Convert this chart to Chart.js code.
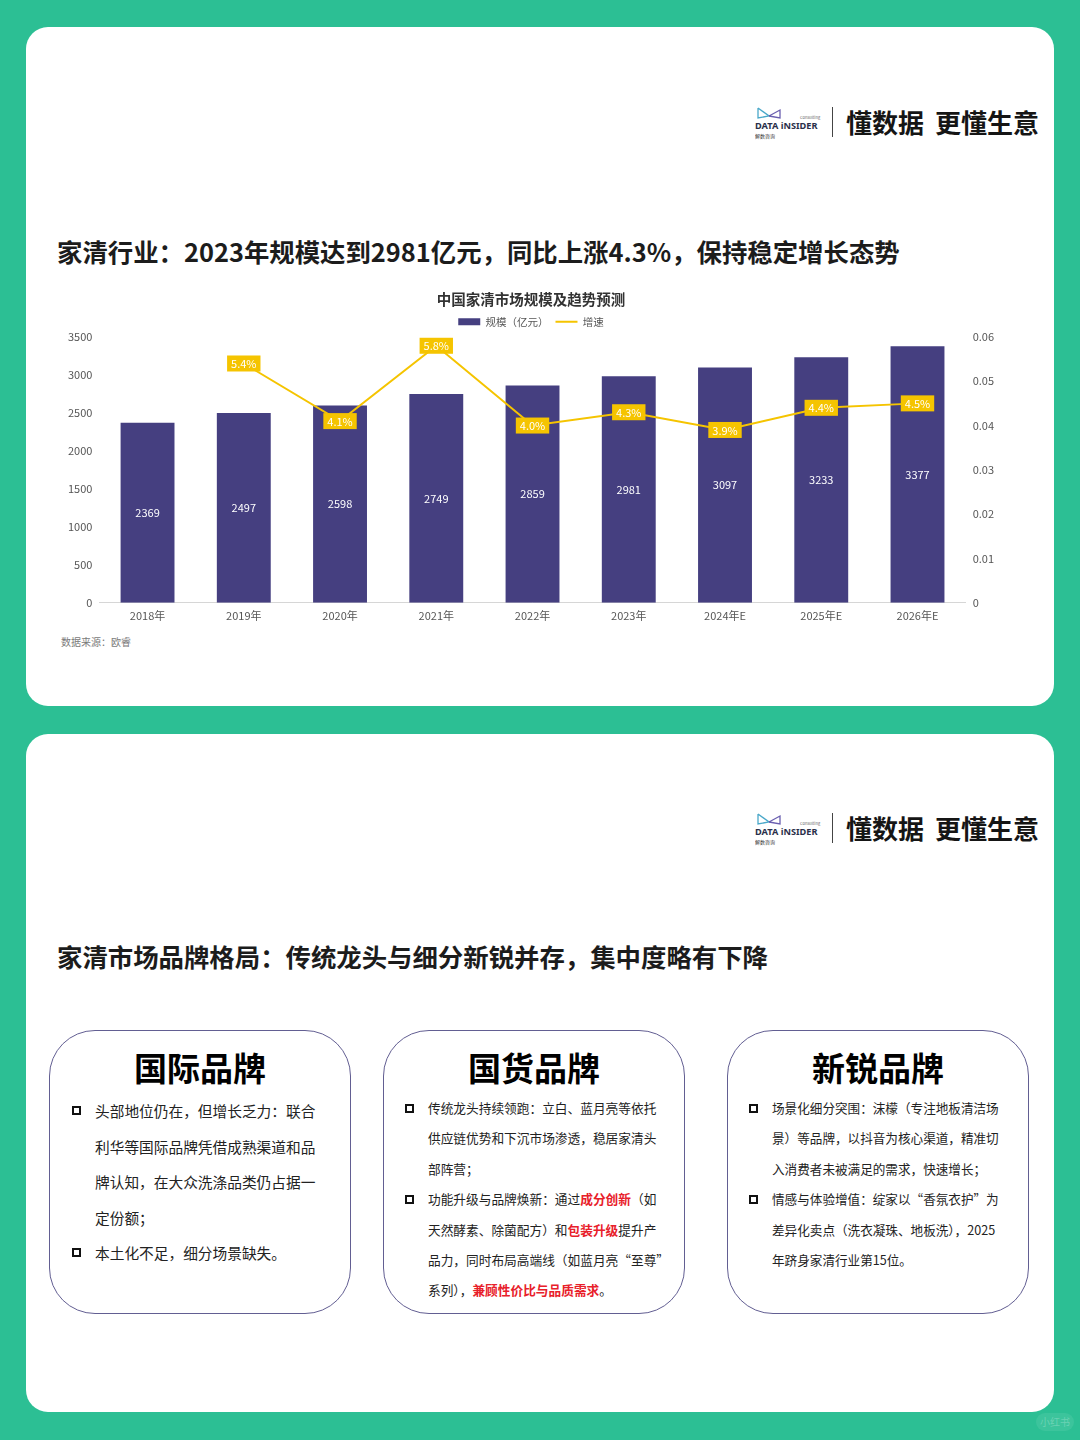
<!DOCTYPE html>
<html lang="zh-CN">
<head>
<meta charset="utf-8">
<title>家清行业</title>
<script src="https://cdn.jsdelivr.net/npm/chart.js@4.4.1/dist/chart.umd.min.js"></script>
<style>
	html, body { margin: 0; padding: 0; }
	body {
		width: 1080px; height: 1440px; position: relative; overflow: hidden;
		background: #2cbf94;
		font-family: "Noto Sans CJK SC", "Noto Sans", sans-serif;
		color: #1a1a1a;
	}
	.card { position: absolute; left: 26px; width: 1028px; background: #fff; border-radius: 22px; }
	.abs { position: absolute; white-space: nowrap; }
	.slogan { font-size: 26px; font-weight: 700; color: #151515; line-height: 1; }
	.sep { position: absolute; width: 1px; height: 30px; background: #444; }
	.headline { font-size: 25.4px; font-weight: 700; color: #1c1c1c; line-height: 1; }
	.source { font-size: 10px; color: #7a7a7a; line-height: 1; }
	.box { position: absolute; width: 302px; height: 284px; border: 1.5px solid #625e92; border-radius: 46px; box-sizing: border-box; }
	.box-title { position: absolute; left: 0; right: 0; text-align: center; font-size: 33px; font-weight: 700; color: #000; line-height: 1; }
	.list { position: absolute; white-space: nowrap; color: #222; }
	.item { position: relative; }
	.sq { position: absolute; left: -23px; width: 9px; height: 9px; border: 2px solid #111; box-sizing: border-box; }
	.red { color: #e8202a; font-weight: 600; }
	#chart-wrap { position: absolute; left: 61px; top: 286px; width: 940px; height: 342px; }
	.wm { position: absolute; left: 1036px; top: 1413px; width: 38px; height: 18px; border-radius: 9px; background: rgba(255,255,255,0.08); color: rgba(255,255,255,0.25); font-size: 10px; line-height: 18px; text-align: center; }
</style>
</head>
<body>

<div class="card" style="top:27px;height:679px;"></div>
<div class="card" style="top:734px;height:678px;"></div>

<!-- logos -->
<div id="logo1"></div>
<div id="logo2"></div>

<div class="abs headline" style="left:57px;top:239px;">家清行业：2023年规模达到2981亿元，同比上涨4.3%，保持稳定增长态势</div>

<div id="chart-wrap"><canvas id="market-chart"></canvas></div>
<div class="abs source" style="left:61px;top:637px;">数据来源：欧睿</div>

<div class="abs headline" style="left:57px;top:944px;">家清市场品牌格局：传统龙头与细分新锐并存，集中度略有下降</div>

<div class="box" style="left:49px;top:1030px;">
	<div class="box-title" style="top:20px;">国际品牌</div>
</div>
<div class="list" style="left:95px;top:1093px;font-size:14.7px;line-height:35.5px;">
	<div class="item"><span class="sq" style="top:13px;"></span>头部地位仍在，但增长乏力：联合<br>利华等国际品牌凭借成熟渠道和品<br>牌认知，在大众洗涤品类仍占据一<br>定份额；</div>
	<div class="item"><span class="sq" style="top:13px;"></span>本土化不足，细分场景缺失。</div>
</div>

<div class="box" style="left:383px;top:1030px;">
	<div class="box-title" style="top:20px;">国货品牌</div>
</div>
<div class="list" style="left:428px;top:1093px;font-size:12.7px;line-height:30.4px;">
	<div class="item"><span class="sq" style="top:11px;"></span>传统龙头持续领跑：立白、蓝月亮等依托<br>供应链优势和下沉市场渗透，稳居家清头<br>部阵营；</div>
	<div class="item"><span class="sq" style="top:11px;"></span>功能升级与品牌焕新：通过<span class="red">成分创新</span>（如<br>天然酵素、除菌配方）和<span class="red">包装升级</span>提升产<br>品力，同时布局高端线（如蓝月亮“至尊”<br>系列），<span class="red">兼顾性价比与品质需求</span>。</div>
</div>

<div class="box" style="left:727px;top:1030px;">
	<div class="box-title" style="top:20px;">新锐品牌</div>
</div>
<div class="list" style="left:772px;top:1093px;font-size:12.6px;line-height:30.4px;">
	<div class="item"><span class="sq" style="top:11px;"></span>场景化细分突围：沫檬（专注地板清洁场<br>景）等品牌，以抖音为核心渠道，精准切<br>入消费者未被满足的需求，快速增长；</div>
	<div class="item"><span class="sq" style="top:11px;"></span>情感与体验增值：绽家以“香氛衣护”为<br>差异化卖点（洗衣凝珠、地板洗），2025<br>年跻身家清行业第15位。</div>
</div>

<div class="wm">小红书</div>

<script>
	// chart data
	var years = ['2018年', '2019年', '2020年', '2021年', '2022年', '2023年', '2024年E', '2025年E', '2026年E'];
	var marketSize = [2369, 2497, 2598, 2749, 2859, 2981, 3097, 3233, 3377];
	var growthRate = [null, 0.054, 0.041, 0.058, 0.040, 0.043, 0.039, 0.044, 0.045];
	var leftTicks = [0, 500, 1000, 1500, 2000, 2500, 3000, 3500];
	var rightTicks = [0, 0.01, 0.02, 0.03, 0.04, 0.05, 0.06];

	var BAR_COLOR = '#453f80';
	var LINE_COLOR = '#f5c400';

	// brand logo + slogan, drawn twice
	function drawLogo(id, y) {
		var el = document.getElementById(id);
		el.innerHTML =
			'<svg class="abs" style="left:755px;top:' + (y - 16) + 'px;" width="70" height="36" viewBox="0 0 70 36">' +
				'<polyline points="3,2 14,10 3,12 3,2" fill="none" stroke="#4aa8c9" stroke-width="1.3"/>' +
				'<polyline points="14,10 25,4 25,12 14,10" fill="none" stroke="#6a5fb0" stroke-width="1.3"/>' +
				'<text x="45" y="13" font-size="4" fill="#666">Consulting</text>' +
				'<text x="0" y="23" font-size="9.2" font-weight="700" fill="#2a2f4a" font-family="Noto Sans, sans-serif">DATA iNSIDER</text>' +
				'<text x="0" y="32" font-size="5" fill="#333">解数咨询</text>' +
			'</svg>' +
			'<div class="sep" style="left:832px;top:' + (y - 15) + 'px;"></div>' +
			'<div class="abs slogan" style="left:846px;top:' + (y - 13) + 'px;">懂数据<span style="display:inline-block;width:11px;"></span>更懂生意</div>';
	}
	drawLogo('logo1', 122);
	drawLogo('logo2', 828);

	Chart.defaults.font.family = '"Noto Sans CJK SC", "Noto Sans", sans-serif';
	Chart.defaults.color = '#666';

	// value labels: white numbers in the bars, yellow tags on the line
	var valueLabels = {
		id: 'valueLabels',
		afterDatasetsDraw: function(chart) {
			var ctx = chart.ctx;
			ctx.save();
			ctx.font = '11px "Noto Sans CJK SC", sans-serif';
			ctx.textAlign = 'center';
			ctx.textBaseline = 'middle';

			chart.getDatasetMeta(0).data.forEach(function(bar, i) {
				var c = bar.getCenterPoint();
				ctx.fillStyle = '#ffffff';
				ctx.fillText(marketSize[i], c.x, c.y);
			});

			chart.getDatasetMeta(1).data.forEach(function(pt, i) {
				if (growthRate[i] === null) return;
				var txt = (growthRate[i] * 100).toFixed(1) + '%';
				var w = ctx.measureText(txt).width + 8;
				ctx.fillStyle = LINE_COLOR;
				ctx.fillRect(pt.x - w / 2, pt.y - 8, w, 16);
				ctx.fillStyle = '#ffffff';
				ctx.fillText(txt, pt.x, pt.y + 0.5);
			});
			ctx.restore();
		}
	};

	var ctx = document.getElementById('market-chart');
	new Chart(ctx, {
		type: 'bar',
		data: {
			labels: years,
			datasets: [
				{
					type: 'bar',
					label: '规模（亿元）',
					data: marketSize,
					backgroundColor: BAR_COLOR,
					borderWidth: 0,
					categoryPercentage: 1,
					barPercentage: 0.56,
					yAxisID: 'y',
					order: 2
				},
				{
					type: 'line',
					label: '增速',
					data: growthRate,
					borderColor: LINE_COLOR,
					backgroundColor: LINE_COLOR,
					borderWidth: 2,
					pointRadius: 0,
					tension: 0,
					spanGaps: false,
					yAxisID: 'y1',
					order: 1
				}
			]
		},
		options: {
			responsive: true,
			maintainAspectRatio: false,
			animation: false,
			layout: { padding: 0 },
			plugins: {
				title: {
					display: true,
					text: '中国家清市场规模及趋势预测',
					color: '#333',
					font: { size: 14.5, weight: 'bold' },
					padding: { top: 5, bottom: 1 }
				},
				legend: {
					display: true,
					position: 'top',
					labels: {
						color: '#555',
						font: { size: 10.5 },
						usePointStyle: true,
						pointStyleWidth: 22,
						boxHeight: 7,
						padding: 7,
						generateLabels: function(chart) {
							var items = Chart.defaults.plugins.legend.labels.generateLabels(chart);
							items.sort(function(a, b) { return a.datasetIndex - b.datasetIndex; });
							items.forEach(function(it) {
								if (it.datasetIndex === 0) {
									it.pointStyle = 'rect';
									it.lineWidth = 0;
								} else {
									it.pointStyle = 'line';
									it.lineWidth = 2;
									it.strokeStyle = LINE_COLOR;
								}
							});
							return items;
						}
					}
				},
				tooltip: { enabled: false }
			},
			scales: {
				x: {
					grid: { display: false, drawTicks: false },
					border: { display: true, color: '#d6d6d6', width: 1 },
					ticks: { color: '#555', font: { size: 11 }, padding: 6 }
				},
				y: {
					position: 'left',
					min: 0,
					max: leftTicks[leftTicks.length - 1],
					afterBuildTicks: function(axis) {
						axis.ticks = leftTicks.map(function(v) { return { value: v }; });
					},
					grid: { display: false, drawTicks: false },
					border: { display: false },
					ticks: {
						color: '#555',
						font: { size: 11 },
						padding: 7,
						callback: function(v) { return String(v); }
					}
				},
				y1: {
					position: 'right',
					min: 0,
					max: rightTicks[rightTicks.length - 1],
					afterBuildTicks: function(axis) {
						axis.ticks = rightTicks.map(function(v) { return { value: v }; });
					},
					grid: { display: false, drawTicks: false },
					border: { display: false },
					ticks: {
						color: '#555',
						font: { size: 11 },
						padding: 7,
						callback: function(v) { return v === 0 ? '0' : v.toFixed(2); }
					}
				}
			}
		},
		plugins: [valueLabels]
	});
</script>
</body>
</html>
